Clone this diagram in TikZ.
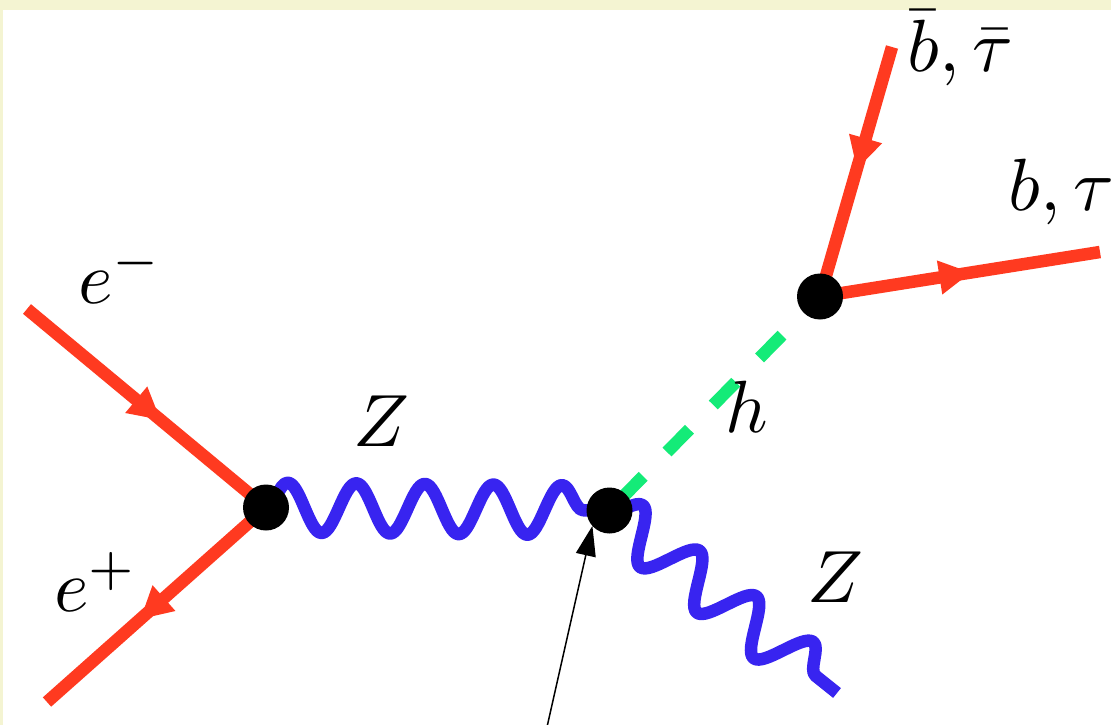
\documentclass[tikz,border=0pt]{standalone}
\usetikzlibrary{decorations.pathmorphing,decorations.markings,arrows.meta}
\definecolor{fred}{RGB}{255,58,32}
\definecolor{zblue}{RGB}{56,36,240}
\definecolor{hgreen}{RGB}{20,235,120}
\definecolor{bgyellow}{RGB}{244,244,210}
\pgfdeclarelayer{back}
\pgfdeclarelayer{lines}
\pgfsetlayers{back,lines,main}
\begin{document}
\begin{tikzpicture}[x=1pt,y=-1pt,
  fermion/.style={draw=fred, line width=12.5pt, postaction={decorate},
    decoration={markings, mark=at position #1 with {\arrow[fred]{Triangle[length=32pt,width=32pt]}}}},
  zwave/.style={draw=zblue, line width=12.5pt, line join=round, decorate,
    decoration={snake, amplitude=25pt, segment length=#1}},
  higgs/.style={draw=hgreen, line width=12.5pt, dash pattern=on 32pt off 34pt, dash phase=50pt},
  vertex/.style={circle, fill=black, minimum size=46pt, inner sep=0pt, outer sep=0pt},
  lab/.style={inner sep=0pt, anchor=base west, font=\normalsize, scale=7.4},
  pointer/.style={draw=black, line width=1.5pt, -{Triangle[length=30pt,width=20pt]}}
]
\begin{pgfonlayer}{back}
  \fill[bgyellow] (0,0) rectangle (1111,725);
  \fill[white] (3,10) rectangle (1111,725);
\end{pgfonlayer}
\useasboundingbox (0,0) rectangle (1111,725);

\node[vertex] (v1) at (266,507.5) {};
\node[vertex] (v2) at (609.5,510.5) {};
\node[vertex] (v3) at (820,296.5) {};

\coordinate (em) at (27,309);
\coordinate (ep) at (47,702);
\coordinate (bb) at (892,47);
\coordinate (b) at (1100,252);
\coordinate (zend) at (837,693);
\coordinate (tail) at (547,727);

\begin{pgfonlayer}{lines}
  \draw[fermion=0.56] (em) -- (v1.center);
  \draw[fermion=0.575] (v1.center) -- (ep);
  \draw[fermion=0.49] (bb) -- (v3.center);
  \draw[fermion=0.54] (v3.center) -- (b);
  \draw[zwave=68.6pt] (v1.center) -- (v2.center);
  \draw[zwave=72.85pt] (v2.center) -- (zend);
  \draw[higgs] (v2.center) -- (v3.center);
\end{pgfonlayer}

\draw[pointer] (tail) -- (v2.-138);

\node[lab] (lem) at (77,303) {$e^-$};
\node[lab] (lep) at (53,611) {$e^+$};
\node[lab] (lz1) at (352,446) {$Z$};
\node[lab] (lh) at (724,432) {$h$};
\node[lab] (lz2) at (806,602) {$Z$};
\node[lab] (lbb) at (906,72) {$\bar b,\bar\tau$};
\node[lab] (lb) at (1007,210) {$b,\tau$};
\end{tikzpicture}
\end{document}
